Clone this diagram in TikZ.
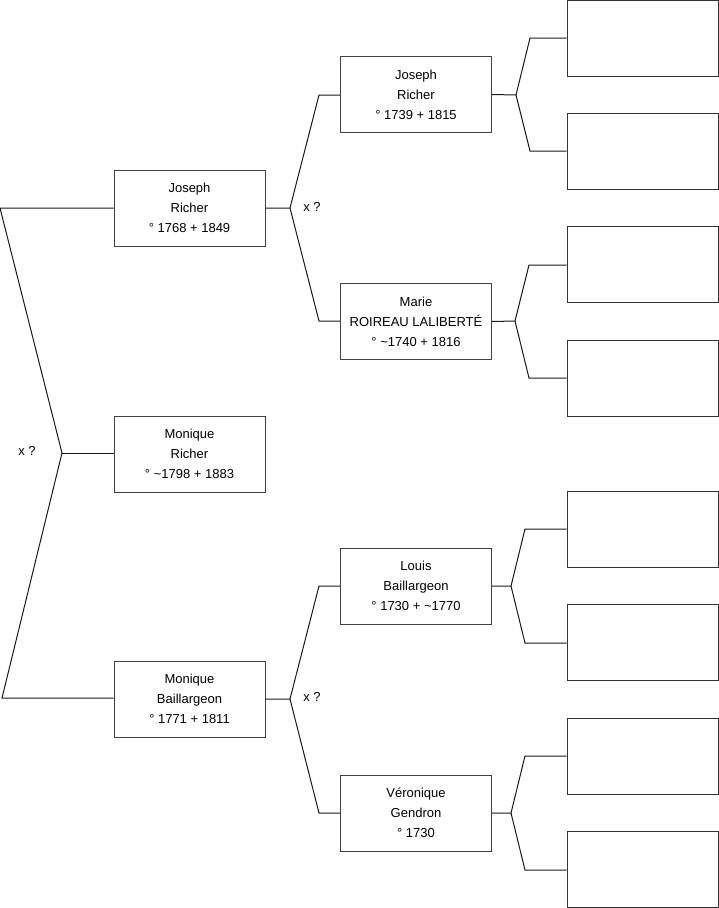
\documentclass[tikz,border=0pt]{standalone}
\usepackage{fontspec}
\setmainfont{Liberation Sans}
\usepackage{tikz}
\usetikzlibrary{positioning}
\tikzset{
  personbox/.style={draw=black!75, line width=1pt, fill=white, minimum width=151pt, minimum height=76pt, align=center, inner sep=0pt},
  emptybox/.style={draw=black!80, line width=1pt, fill=white, minimum width=151pt, minimum height=76pt, inner sep=0pt},
  linkline/.style={line width=1pt, black!90},
  unionlabel/.style={inner sep=0pt}
}

\begin{document}
\begin{tikzpicture}[x=1pt, y=-1pt, every node/.style={font=\fontsize{13}{20}\selectfont}]
      \useasboundingbox (0,0) rectangle (719,908);
      % generation 1 and 2
      \node[personbox] (mr) at (189.5,454) {Monique\\Richer\\° \textasciitilde1798 + 1883};
      \node[personbox] (jr) at (189.5,208) {Joseph\\Richer\\° 1768 + 1849};
      \node[personbox] (mb) at (189.5,699) {Monique\\Baillargeon\\° 1771 + 1811};
      % generation 3
      \node[personbox] (jro) at (416,94.5) {Joseph\\Richer\\° 1739 + 1815};
      \node[personbox] (mrl) at (416,321.5) {Marie\\ROIREAU LALIBERTÉ\\° \textasciitilde1740 + 1816};
      \node[personbox] (lb) at (416,586) {Louis\\Baillargeon\\° 1730 + \textasciitilde1770};
      \node[personbox] (vg) at (416,813) {Véronique\\Gendron\\° 1730};
      % generation 4 (unknown)
      \foreach \n/\y in {e1/38, e2/151, e3/264.5, e4/378, e5/529, e6/642, e7/756, e8/869}
        \node[emptybox] (\n) at (642.5,\y) {};

      % left bracket
      \coordinate (a1) at (0,208);
      \coordinate (a2) at (62,453);
      \coordinate (a3) at (2,698);
      \draw[linkline] (jr.west) -- (a1) -- (a2) -- (a3) -- (mb.west |- a3);
      \draw[linkline] (a2) -- (mr.west |- a2);
      \node[unionlabel] (x1) at (27,451) {x ?};

      % parents of Joseph and Monique
      \coordinate (b1) at (290,208);
      \coordinate (b2) at (319,95);
      \coordinate (b3) at (319,321);
      \draw[linkline] (jr.east) -- (b1) -- (b2) -- (jro.west |- b2);
      \draw[linkline] (b1) -- (b3) -- (mrl.west |- b3);
      \node[unionlabel] (x2) at (312,207) {x ?};
      \coordinate (c1) at (290,699);
      \coordinate (c2) at (319,586);
      \coordinate (c3) at (319,813);
      \draw[linkline] (mb.east) -- (c1) -- (c2) -- (lb.west |- c2);
      \draw[linkline] (c1) -- (c3) -- (vg.west |- c3);
      \node[unionlabel] (x3) at (312,697) {x ?};

      % last generation
      \foreach \p/\u/\l/\ya/\yb/\ym/\xm in {jro/e1/e2/38/151/95/516, mrl/e3/e4/265/378/321/515, lb/e5/e6/529/643/586/511, vg/e7/e8/756/870/813/511} {
        \coordinate (m) at (\xm,\ym);
        \draw[linkline] (\p.east) -- (m) -- (\xm+14,\ya) -- (\u.west |- 0,\ya);
        \draw[linkline] (m) -- (\xm+14,\yb) -- (\l.west |- 0,\yb);
      }
    \end{tikzpicture}
\end{document}
